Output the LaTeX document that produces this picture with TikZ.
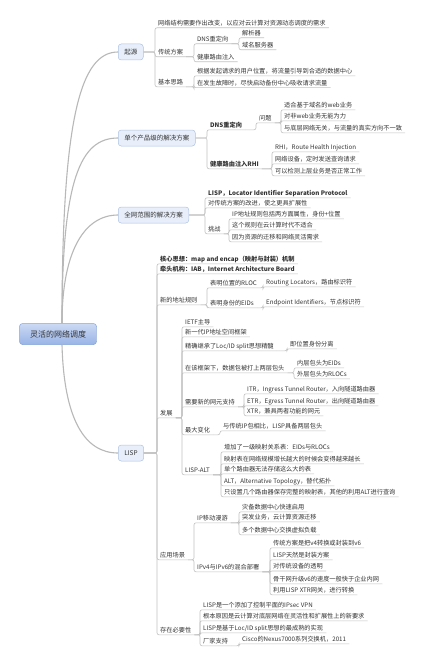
\documentclass[tikz,border=0pt]{standalone}
\usepackage{fontspec}
\newfontfamily\cjk{Noto Sans CJK SC}
\usetikzlibrary{calc}
\definecolor{txt}{HTML}{333333}
\definecolor{lnc}{HTML}{C2C2C2}
\definecolor{mainln}{HTML}{B8B8B8}
\definecolor{boxfill}{HTML}{E8EFFA}
\definecolor{boxdraw}{HTML}{AFC3E3}
\definecolor{roottop}{HTML}{CCDAF4}
\definecolor{rootbot}{HTML}{98B3E6}
\definecolor{rootdraw}{HTML}{86A3D8}
\newcommand\kids[2]{\foreach \c in {#2}{\draw[ln] (#1) -- (#1 -| \c.south west) -- (\c.south west) -- (\c.south east);}}
\begin{document}
\begin{tikzpicture}[x=1pt,y=-1pt,
  t/.style={anchor=base west, inner xsep=3pt, inner ysep=1.2pt, text height=5pt, text depth=1pt,
    font=\cjk\fontsize{6.2}{7}\selectfont, text=txt},
  tb/.style={t, font=\cjk\bfseries\fontsize{6.2}{7}\selectfont},
  ln/.style={draw=lnc, line width=0.6pt, rounded corners=2pt},
  mainl/.style={draw=mainln, line width=1.1pt},
  box/.style={anchor=west, draw=boxdraw, fill=boxfill, rounded corners=3pt, line width=0.5pt,
    inner xsep=6pt, minimum height=16pt, font=\cjk\fontsize{6.5}{7}\selectfont, text=txt},
  rootbox/.style={draw=rootdraw, top color=roottop, bottom color=rootbot, rounded corners=3pt,
    line width=0.5pt, minimum width=77pt, minimum height=21pt, font=\cjk\fontsize{8}{9}\selectfont, text=txt}
]
\fill[white] (0,0) rectangle (429,669);
\useasboundingbox (0,0) rectangle (429,669);

% root and main branches
\node[rootbox] (root) at (58,334) {灵活的网络调度};
\node[box] (qi) at (118,52) {起源};
\node[box] (dan) at (118,138) {单个产品级的解决方案};
\node[box] (quan) at (118,215) {全网范围的解决方案};
\node[box] (lisp) at (118,453) {LISP};
\coordinate (rt) at ([xshift=4pt]root.north);
\coordinate (rb) at ([xshift=4pt]root.south);
\draw[mainl] (rt) .. controls (62,120) and (80,52) .. (qi.west);
\draw[mainl] (rt) .. controls (62,180) and (80,138) .. (dan.west);
\draw[mainl] (rt) .. controls (62,250) and (85,215) .. (quan.west);
\draw[mainl] (rb) .. controls (64,420) and (85,453) .. (lisp.west);

% 起源
\node[t] (a1) at (155,25.4) {网络结构需要作出改变，以应对云计算对资源动态调度的需求};
\node[t] (a2) at (155,54.4) {传统方案};
\node[t] (a3) at (155,84.4) {基本思路};
\kids{qi.east}{a1,a2,a3}
\node[t] (b1) at (194,41.4) {DNS重定向};
\node[t] (b2) at (194,59.4) {健康路由注入};
\kids{a2.south east}{b1,b2}
\node[t] (c1) at (239,35.4) {解析器};
\node[t] (c2) at (239,47.4) {域名服务器};
\kids{b1.south east}{c1,c2}
\node[t] (d1) at (194,73.4) {根据发起请求的用户位置，将流量引导到合适的数据中心};
\node[t] (d2) at (194,85.2) {在发生故障时，尽快启动备份中心吸收请求流量};
\kids{a3.south east}{d1,d2}

% 单个产品级的解决方案
\node[tb] (e1) at (207,127.4) {DNS重定向};
\node[tb] (e2) at (207,166.4) {健康路由注入RHI};
\kids{dan.east}{e1,e2}
\node[t] (p1) at (256,120.4) {问题};
\kids{e1.south east}{p1}
\node[t] (f1) at (281,107.4) {适合基于域名的web业务};
\node[t] (f2) at (281,118.4) {对非web业务无能为力};
\node[t] (f3) at (281,130.4) {与底层网络无关，与流量的真实方向不一致};
\kids{p1.south east}{f1,f2,f3}
\node[t] (g1) at (272,149.4) {RHI，Route Health Injection};
\node[t] (g2) at (272,161.4) {网络设备，定时发送查询请求};
\node[t] (g3) at (272,173.4) {可以检测上层业务是否正常工作};
\kids{e2.south east}{g1,g2,g3}

% 全网范围的解决方案
\node[tb] (h1) at (205,195.4) {LISP，Locator Identifier Separation Protocol};
\node[t] (h2) at (205,205.4) {对传统方案的改进，使之更具扩展性};
\node[t] (h3) at (205,231.4) {挑战};
\kids{quan.east}{h1,h2,h3}
\node[t] (i1) at (229,216.4) {IP地址规则包括两方面属性，身份+位置};
\node[t] (i2) at (229,227.4) {这个规则在云计算时代不适合};
\node[t] (i3) at (229,239.4) {因为资源的迁移和网络灵活需求};
\kids{h3.south east}{i1,i2,i3}

% LISP
\node[tb] (j1) at (157,261.4) {核心思想：map and encap（映射与封装）机制};
\node[tb] (j2) at (157,271.4) {牵头机构：IAB，Internet Architecture Board};
\node[t] (j3) at (157,302.4) {新的地址规则};
\node[t] (j4) at (157,415.4) {发展};
\node[t] (j5) at (157,557.4) {应用场景};
\node[t] (j6) at (157,632.4) {存在必要性};
\kids{lisp.east}{j1,j2,j3,j4,j5,j6}

\node[t] (k1) at (207,285.4) {表明位置的RLOC};
\node[t] (k2) at (207,305.4) {表明身份的EIDs};
\kids{j3.south east}{k1,k2}
\node[t] (l1) at (263,284.4) {Routing Locators，路由标识符};
\kids{k1.south east}{l1}
\node[t] (l2) at (263,304.4) {Endpoint Identifiers，节点标识符};
\kids{k2.south east}{l2}

\node[t] (m1) at (182,324.4) {IETF主导};
\node[t] (m2) at (182,334.4) {新一代IP地址空间框架};
\node[t] (m3) at (182,348.4) {精确继承了Loc/ID split思想精髓};
\node[t] (m4) at (182,370.4) {在该框架下，数据包被打上两层包头};
\node[t] (m5) at (182,404.4) {需要新的网元支持};
\node[t] (m6) at (182,432.4) {最大变化};
\node[t] (m7) at (182,472.4) {LISP-ALT};
\kids{j4.south east}{m1,m2,m3,m4,m5,m6,m7}
\node[t] (q1) at (287,346.4) {即位置身份分离};
\kids{m3.south east}{q1}
\node[t] (r1) at (294,365.4) {内层包头为EIDs};
\node[t] (r2) at (294,376.4) {外层包头为RLOCs};
\kids{m4.south east}{r1,r2}
\node[t] (s1) at (244,391.4) {ITR，Ingress Tunnel Router，入向隧道路由器};
\node[t] (s2) at (244,403.4) {ETR，Egress Tunnel Router，出向隧道路由器};
\node[t] (s3) at (244,413.4) {XTR，兼具两者功能的网元};
\kids{m5.south east}{s1,s2,s3}
\node[t] (u1) at (220,428.4) {与传统IP包相比，LISP具备两层包头};
\kids{m6.south east}{u1}
\node[t] (v1) at (221,449.4) {增加了一级映射关系表：EIDs与RLOCs};
\node[t] (v2) at (221,461.4) {映射表在网络规模增长越大的时候会变得越来越长};
\node[t] (v3) at (221,471.4) {单个路由器无法存储这么大的表};
\node[t] (v4) at (221,483.4) {ALT，Alternative Topology，替代拓扑};
\node[t] (v5) at (221,494.4) {只设置几个路由器保存完整的映射表，其他的利用ALT进行查询};
\kids{m7.south east}{v1,v2,v3,v4,v5}

\node[t] (w1) at (194,520.4) {IP移动漫游};
\node[t] (w2) at (194,569.4) {IPv4与IPv6的混合部署};
\kids{j5.south east}{w1,w2}
\node[t] (x1) at (239,509.4) {灾备数据中心快速启用};
\node[t] (x2) at (239,519.4) {突发业务，云计算资源迁移};
\node[t] (x3) at (239,532.4) {多个数据中心交换虚拟负载};
\kids{w1.south east}{x1,x2,x3}
\node[t] (y1) at (270,545.4) {传统方案是把v4转换或封装到v6};
\node[t] (y2) at (270,557.4) {LISP天然是封装方案};
\node[t] (y3) at (270,568.6) {对传统设备的透明};
\node[t] (y4) at (270,581.4) {骨干网升级v6的速度一般快于企业内网};
\node[t] (y5) at (270,592.4) {利用LISP XTR网关，进行转换};
\kids{w2.south east}{y1,y2,y3,y4,y5}

\node[t] (z1) at (200,607.4) {LISP是一个添加了控制平面的IPsec VPN};
\node[t] (z2) at (200,618.4) {根本原因是云计算对底层网络在灵活性和扩展性上的新要求};
\node[t] (z3) at (200,630.4) {LISP是基于Loc/ID split思想的最成熟的实现};
\node[t] (z4) at (200,643.4) {厂家支持};
\kids{j6.south east}{z1,z2,z3,z4}
\node[t] (zz) at (239,641.4) {Cisco的Nexus7000系列交换机，2011};
\kids{z4.south east}{zz}
\end{tikzpicture}
\end{document}
